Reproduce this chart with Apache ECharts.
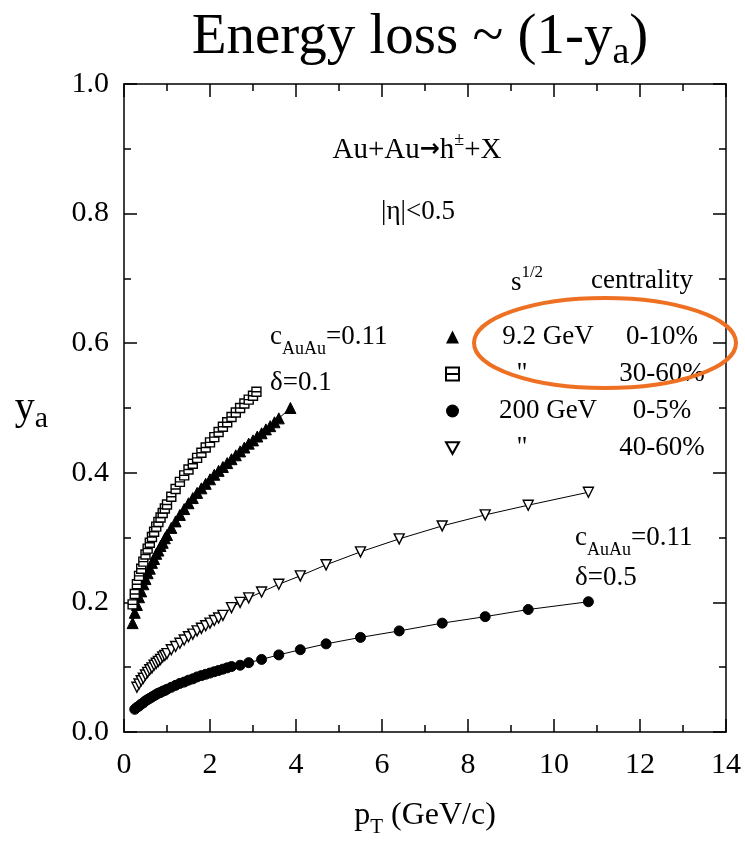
<!DOCTYPE html>
<html>
<head>
<meta charset="utf-8">
<script src="https://cdn.jsdelivr.net/npm/echarts@6/dist/echarts.min.js"></script>
<style>html,body{margin:0;padding:0;background:#fff}#c{width:745px;height:843px}</style>
</head>
<body>
<div id="c"></div>
<script>
// 9.2 GeV, 0-10% (filled up-triangles)
const triX92c = [0.2,0.25,0.3,0.35,0.4,0.45,0.5,0.55,0.6,0.65,0.7,0.75,0.8,0.85,0.9,0.95,1.0,1.1,1.2,1.3,1.4,1.5,1.6,1.7,1.8,1.9,2.0,2.1,2.2,2.3,2.4,2.5,2.6,2.7,2.8,2.9,3.0,3.1,3.2,3.3,3.4,3.5,3.6,3.87];
const triY92c = [0.168,0.184,0.196,0.208,0.217,0.228,0.236,0.245,0.252,0.261,0.267,0.275,0.280,0.287,0.292,0.299,0.304,0.315,0.325,0.335,0.344,0.353,0.361,0.369,0.376,0.383,0.390,0.397,0.403,0.409,0.415,0.421,0.427,0.433,0.439,0.445,0.450,0.456,0.461,0.467,0.472,0.478,0.484,0.500];
// 9.2 GeV, 30-60% (open squares)
const sqX92p = [0.2,0.25,0.3,0.35,0.4,0.45,0.5,0.55,0.6,0.65,0.7,0.75,0.8,0.85,0.9,0.95,1.0,1.1,1.2,1.3,1.4,1.5,1.6,1.7,1.8,1.9,2.0,2.1,2.2,2.3,2.4,2.5,2.6,2.7,2.8,2.9,3.0,3.08];
const sqY92p = [0.197,0.213,0.228,0.241,0.252,0.263,0.274,0.283,0.292,0.301,0.309,0.317,0.324,0.331,0.338,0.345,0.351,0.363,0.375,0.386,0.396,0.405,0.414,0.423,0.431,0.439,0.447,0.455,0.463,0.471,0.478,0.486,0.493,0.500,0.507,0.513,0.519,0.525];
// 200 GeV, 0-5% (filled circles)
const cirX200c = [0.25,0.3,0.35,0.4,0.45,0.5,0.55,0.6,0.65,0.7,0.75,0.8,0.85,0.9,0.95,1.0,1.1,1.2,1.3,1.4,1.5,1.6,1.7,1.8,1.9,2.0,2.1,2.2,2.3,2.4,2.5,2.7,2.9,3.2,3.6,4.1,4.7,5.5,6.4,7.4,8.4,9.4,10.8];
const cirY200c = [0.035,0.038,0.040,0.043,0.045,0.048,0.050,0.052,0.054,0.056,0.058,0.060,0.061,0.063,0.064,0.066,0.069,0.072,0.075,0.077,0.080,0.082,0.085,0.087,0.089,0.091,0.093,0.095,0.097,0.099,0.101,0.103,0.107,0.112,0.119,0.127,0.136,0.146,0.156,0.168,0.178,0.189,0.201];
// 200 GeV, 40-60% (open down-triangles)
const dtrX200p = [0.3,0.35,0.4,0.45,0.5,0.55,0.6,0.65,0.7,0.75,0.8,0.85,0.9,0.95,1.0,1.1,1.2,1.3,1.4,1.5,1.6,1.7,1.8,1.9,2.0,2.1,2.2,2.3,2.5,2.7,2.9,3.2,3.6,4.1,4.7,5.5,6.4,7.4,8.4,9.4,10.8];
const dtrY200p = [0.069,0.074,0.079,0.083,0.088,0.092,0.096,0.099,0.103,0.106,0.109,0.112,0.116,0.118,0.121,0.127,0.132,0.137,0.142,0.147,0.151,0.156,0.160,0.164,0.168,0.172,0.176,0.180,0.192,0.200,0.207,0.216,0.228,0.241,0.258,0.278,0.298,0.318,0.335,0.350,0.370];

const xTicks = [0,2,4,6,8,10,12,14];
const yTicks = [0.0,0.2,0.4,0.6,0.8,1.0];

const FONT = '"Liberation Serif", "DejaVu Serif", serif';
const pair = (xs, ys) => xs.map((x, i) => [x, ys[i]]);

const squareIcon = 'path://M0,0H10V10H0Z M0,5H10';
const downTri = 'path://M0,0L10,0L5,9Z';

const chart = echarts.init(document.getElementById('c'), null, {renderer: 'canvas'});

const axisCommon = {
  axisLine: {show: true, onZero: false, lineStyle: {color: '#000', width: 1.5}},
  axisTick: {show: true, inside: true, length: 13, lineStyle: {color: '#000', width: 1.5}},
  minorTick: {show: true, splitNumber: 2, length: 7, lineStyle: {color: '#000', width: 1.5}},
  splitLine: {show: false},
  minorSplitLine: {show: false}
};

const option = {
  backgroundColor: '#fff',
  animation: false,
  grid: {left: 124, right: 19, top: 84, bottom: 101, containLabel: false},
  xAxis: [
    Object.assign({
      type: 'value', min: 0, max: 14, interval: 2, position: 'bottom',
      axisLabel: {fontFamily: FONT, fontSize: 30, color: '#000', margin: 18,
        formatter: v => xTicks.includes(v) ? String(v) : ''},
      name: '{a|p}{s|T}{a| (GeV/c)}', nameLocation: 'middle', nameGap: 68,
      nameTextStyle: {rich: {
        a: {fontFamily: FONT, fontSize: 32, color: '#000'},
        s: {fontFamily: FONT, fontSize: 21, color: '#000', verticalAlign: 'bottom', padding: [0,0,-6,0]}
      }}
    }, axisCommon),
    Object.assign({
      type: 'value', min: 0, max: 14, interval: 2, position: 'top',
      axisLabel: {show: false}
    }, axisCommon)
  ],
  yAxis: [
    Object.assign({
      type: 'value', min: 0, max: 1, interval: 0.2, position: 'left',
      axisLabel: {fontFamily: FONT, fontSize: 30, color: '#000', margin: 15,
        formatter: v => yTicks.some(t => Math.abs(t - v) < 1e-9) ? v.toFixed(1) : ''},
      name: '{a|y}{s|a}', nameLocation: 'middle', nameRotate: 0, nameGap: 76,
      nameTextStyle: {rich: {
        a: {fontFamily: FONT, fontSize: 40, color: '#000'},
        s: {fontFamily: FONT, fontSize: 30, color: '#000', verticalAlign: 'bottom', padding: [0,0,-6,0]}
      }}
    }, axisCommon),
    Object.assign({
      type: 'value', min: 0, max: 1, interval: 0.2, position: 'right',
      axisLabel: {show: false}
    }, axisCommon)
  ],
  legend: {
    orient: 'vertical', left: 440, top: 317, itemWidth: 13, itemHeight: 13, itemGap: 7,
    selectedMode: false,
    data: [
      {name: 's92c', icon: 'triangle'},
      {name: 's92p', icon: squareIcon},
      {name: 's200c', icon: 'circle'},
      {name: 's200p', icon: downTri}
    ],
    formatter: function (n) {
      if (n === 's92c') return '{p|}{a|9.2 GeV}{b|0-10%}';
      if (n === 's92p') return '{p|}{q|"}{s|}{b|30-60%}';
      if (n === 's200c') return '{p|}{a|200 GeV}{b|0-5%}';
      return '{p|}{q|"}{s|}{b|40-60%}';
    },
    textStyle: {
      fontFamily: FONT, fontSize: 27, color: '#000', lineHeight: 30,
      rich: {
        p: {width: 19, fontFamily: FONT, fontSize: 27},
        a: {width: 130, align: 'center', fontFamily: FONT, fontSize: 27, color: '#000'},
        q: {width: 78, align: 'center', fontFamily: FONT, fontSize: 27, color: '#000'},
        s: {width: 52, fontFamily: FONT, fontSize: 27},
        b: {width: 98, align: 'center', fontFamily: FONT, fontSize: 27, color: '#000'}
      }
    }
  },
  series: [
    {
      name: 's92c', type: 'line', data: pair(triX92c, triY92c),
      symbol: 'triangle', symbolSize: 11,
      itemStyle: {color: '#000', borderColor: '#000'},
      lineStyle: {color: '#000', width: 1}
    },
    {
      name: 's92p', type: 'line', data: pair(sqX92p, sqY92p),
      symbol: squareIcon, symbolSize: 9,
      itemStyle: {color: '#fff', borderColor: '#000', borderWidth: 1.4},
      lineStyle: {color: '#000', width: 1}
    },
    {
      name: 's200c', type: 'line', data: pair(cirX200c, cirY200c),
      symbol: 'circle', symbolSize: 10,
      itemStyle: {color: '#000', borderColor: '#000'},
      lineStyle: {color: '#000', width: 1}
    },
    {
      name: 's200p', type: 'line', data: pair(dtrX200p, dtrY200p),
      symbol: downTri, symbolSize: 10,
      itemStyle: {color: '#fff', borderColor: '#000', borderWidth: 1.4},
      lineStyle: {color: '#000', width: 1}
    }
  ],
  graphic: [
    {type: 'text', x: 420, y: 38, style: {
      text: '{a|Energy loss ~ (1-y}{s|a}{a|)}', align: 'center', verticalAlign: 'middle',
      rich: {
        a: {fontFamily: FONT, fontSize: 57, fill: '#000'},
        s: {fontFamily: FONT, fontSize: 38, fill: '#000', verticalAlign: 'bottom', padding: [0,0,-6,0]}
      }
    }},
    {type: 'text', x: 417, y: 150, style: {
      text: '{a|Au+Au}{r|→}{a|h}{s|±}{a|+X}', align: 'center', verticalAlign: 'middle',
      rich: {
        a: {fontFamily: FONT, fontSize: 29, fill: '#000'},
        r: {fontFamily: '"DejaVu Sans", sans-serif', fontWeight: 'bold', fontSize: 24, fill: '#000'},
        s: {fontFamily: FONT, fontSize: 18, fill: '#000', verticalAlign: 'top', padding: [-4,0,0,0]}
      }
    }},
    {type: 'text', x: 418, y: 212, style: {
      text: '|η|<0.5', align: 'center', verticalAlign: 'middle',
      fontFamily: FONT, fontSize: 27, fill: '#000'
    }},
    {type: 'text', x: 527, y: 283, style: {
      text: '{a|s}{s|1/2}', align: 'center', verticalAlign: 'middle',
      rich: {
        a: {fontFamily: FONT, fontSize: 27, fill: '#000'},
        s: {fontFamily: FONT, fontSize: 17, fill: '#000', verticalAlign: 'top', padding: [-5,0,0,0]}
      }
    }},
    {type: 'text', x: 642, y: 281, style: {
      text: 'centrality', align: 'center', verticalAlign: 'middle',
      fontFamily: FONT, fontSize: 27, fill: '#000'
    }},
    {type: 'text', x: 270, y: 337, style: {
      text: '{a|c}{s|AuAu}{a|=0.11}', align: 'left', verticalAlign: 'middle',
      rich: {
        a: {fontFamily: FONT, fontSize: 27, fill: '#000'},
        s: {fontFamily: FONT, fontSize: 18, fill: '#000', verticalAlign: 'bottom', padding: [0,0,-8,0]}
      }
    }},
    {type: 'text', x: 270, y: 383, style: {
      text: 'δ=0.1', align: 'left', verticalAlign: 'middle',
      fontFamily: FONT, fontSize: 27, fill: '#000'
    }},
    {type: 'text', x: 575, y: 538, style: {
      text: '{a|c}{s|AuAu}{a|=0.11}', align: 'left', verticalAlign: 'middle',
      rich: {
        a: {fontFamily: FONT, fontSize: 27, fill: '#000'},
        s: {fontFamily: FONT, fontSize: 18, fill: '#000', verticalAlign: 'bottom', padding: [0,0,-8,0]}
      }
    }},
    {type: 'text', x: 575, y: 578, style: {
      text: 'δ=0.5', align: 'left', verticalAlign: 'middle',
      fontFamily: FONT, fontSize: 27, fill: '#000'
    }},
    {type: 'ellipse', shape: {cx: 605, cy: 343, rx: 131, ry: 45},
      style: {fill: 'none', stroke: '#EE7023', lineWidth: 4}, z: 100}
  ]
};
chart.setOption(option);
</script>
</body>
</html>
